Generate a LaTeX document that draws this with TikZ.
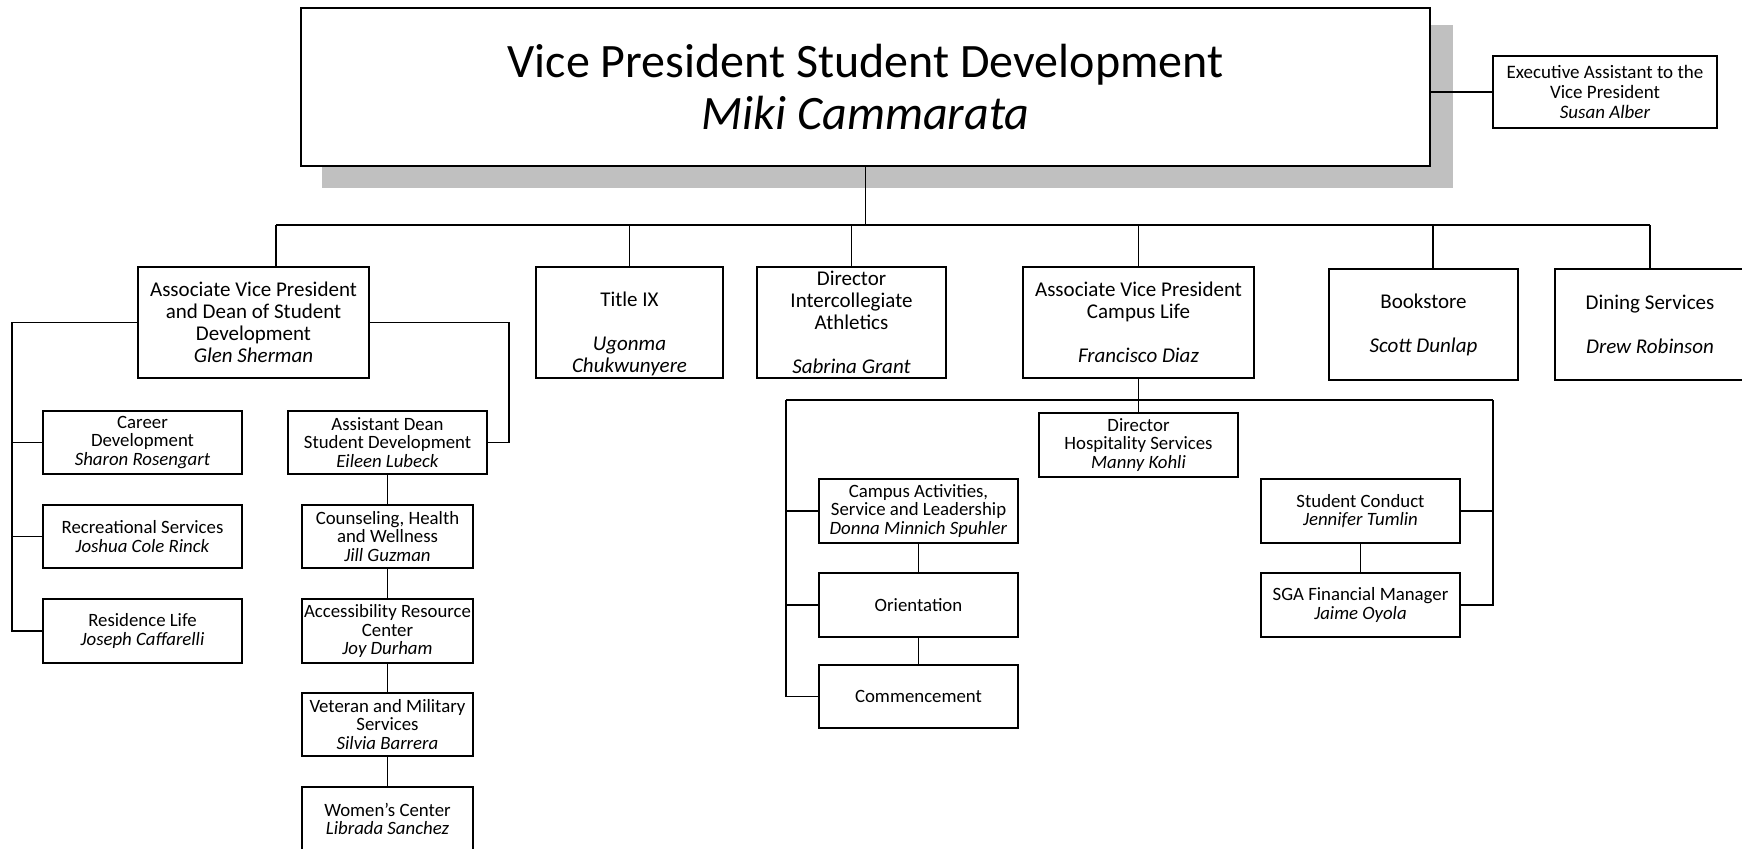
\documentclass[tikz,border=0pt]{standalone}
\usepackage{fontspec}
\setmainfont{Carlito}
\definecolor{shadowgray}{RGB}{192,192,192}
\tikzset{
  box/.style={draw, line width=0.7pt, fill=white, align=center, inner sep=0pt,
    font=\fontsize{9.4}{9.4}\selectfont},
  midbox/.style={box, font=\fontsize{10.5}{11}\selectfont},
  execbox/.style={box, font=\fontsize{9.5}{9.8}\selectfont},
  topbox/.style={box, line width=1pt, font=\fontsize{24}{26}\selectfont},
  conn/.style={line width=0.6pt},
}
\newcommand\obox[7][]{\node[box,#1,minimum width={(#5-#3)*0.5pt},minimum height={(#6-#4)*0.5pt}] (#2) at ({(#3+#5)/2},{(#4+#6)/2}) {#7};}
\begin{document}
\begin{tikzpicture}[x=0.5pt,y=-0.5pt]
\useasboundingbox (0,0) rectangle (1742,848);
% shadow of top box
\fill[shadowgray] (322,25) rectangle (1453,188);
\obox[topbox]{top}{301}{8}{1430}{166}{Vice President Student Development\\\textit{Miki Cammarata}}
\obox[execbox]{exec}{1493}{56}{1717}{128}{Executive Assistant to the\\Vice President\\\textit{Susan Alber}}
% level 2
\obox[midbox]{avpd}{138}{267}{369}{378}{Associate Vice President\\and Dean of Student\\Development\\\textit{Glen Sherman}}
\obox[midbox]{title9}{536}{267}{723}{378}{\strut\\Title IX\\\strut\\\textit{Ugonma}\\\textit{Chukwunyere}}
\obox[midbox]{athl}{757}{267}{946}{378}{Director\\Intercollegiate\\Athletics\\\strut\\\textit{Sabrina Grant}}
\obox[midbox]{avpc}{1023}{267}{1254}{378}{Associate Vice President\\Campus Life\\\strut\\\textit{Francisco Diaz}}
\obox[midbox]{book}{1329}{269}{1518}{380}{Bookstore\\\strut\\\textit{Scott Dunlap}}
\obox[midbox]{dining}{1555}{269}{1745}{380}{Dining Services\\\strut\\\textit{Drew Robinson}}
% dean of students group
\obox{career}{43}{411}{242}{474}{Career\\Development\\\textit{Sharon Rosengart}}
\obox{rec}{43}{505}{242}{568}{Recreational Services\\\textit{Joshua Cole Rinck}}
\obox{res}{43}{599}{242}{663}{Residence Life\\\textit{Joseph Caffarelli}}
\obox{asst}{288}{411}{487}{474}{Assistant Dean\\Student Development\\\textit{Eileen Lubeck}}
\obox{couns}{302}{505}{473}{568}{Counseling, Health\\and Wellness\\\textit{Jill Guzman}}
\obox{access}{302}{599}{473}{663}{Accessibility Resource\\Center\\\textit{Joy Durham}}
\obox{vet}{302}{693}{473}{756}{Veteran and Military\\Services\\\textit{Silvia Barrera}}
\obox{women}{302}{787}{473}{851}{Women’s Center\\\textit{Librada Sanchez}}
% campus life group
\obox{hosp}{1039}{413}{1238}{477}{Director\\Hospitality Services\\\textit{Manny Kohli}}
\obox{campact}{819}{479}{1018}{543}{Campus Activities,\\Service and Leadership\\\textit{Donna Minnich Spuhler}}
\obox{orient}{819}{573}{1018}{637}{Orientation}
\obox{commence}{819}{665}{1018}{728}{Commencement}
\obox{stucond}{1261}{479}{1460}{543}{Student Conduct\\\textit{Jennifer Tumlin}}
\obox{sga}{1261}{573}{1460}{637}{SGA Financial Manager\\\textit{Jaime Oyola}}
% connectors
\coordinate (busL) at (276,225);
\coordinate (busR) at (1650,225);
\coordinate (bk) at (1433,225);
\draw[conn] (top.south) -- (top.south |- busL);
\draw[conn] (busL) -- (busR);
\draw[conn] (exec.west) -- (exec.west -| top.east);
\draw[conn] (busL) -- (busL |- avpd.north);
\draw[conn] (title9.north) -- (title9.north |- busL);
\draw[conn] (athl.north) -- (athl.north |- busL);
\draw[conn] (avpc.north) -- (avpc.north |- busL);
\draw[conn] (bk) -- (bk |- book.north);
\draw[conn] (busR) -- (busR |- dining.north);
% dean group connectors
\coordinate (lsp) at (12,323);
\coordinate (rsp) at (509,323);
\draw[conn] (avpd.west) -- (avpd.west -| lsp) |- (res.west);
\draw[conn] (career.west) -- (career.west -| lsp);
\draw[conn] (rec.west) -- (rec.west -| lsp);
\draw[conn] (avpd.east) -- (avpd.east -| rsp) |- (asst.east);
\draw[conn] (asst.south) -- (couns.north);
\draw[conn] (couns.south) -- (access.north);
\draw[conn] (access.south) -- (vet.north);
\draw[conn] (vet.south) -- (women.north);
% campus life connectors
\coordinate (sbL) at (786,400);
\coordinate (sbR) at (1493,400);
\draw[conn] (avpc.south) -- (hosp.north);
\draw[conn] (sbL) -- (sbR);
\draw[conn] (sbL) |- (commence.west);
\draw[conn] (campact.west) -- (campact.west -| sbL);
\draw[conn] (orient.west) -- (orient.west -| sbL);
\draw[conn] (sbR) |- (sga.east);
\draw[conn] (stucond.east) -- (stucond.east -| sbR);
\draw[conn] (campact.south) -- (orient.north);
\draw[conn] (orient.south) -- (commence.north);
\draw[conn] (stucond.south) -- (sga.north);
\end{tikzpicture}
\end{document}
